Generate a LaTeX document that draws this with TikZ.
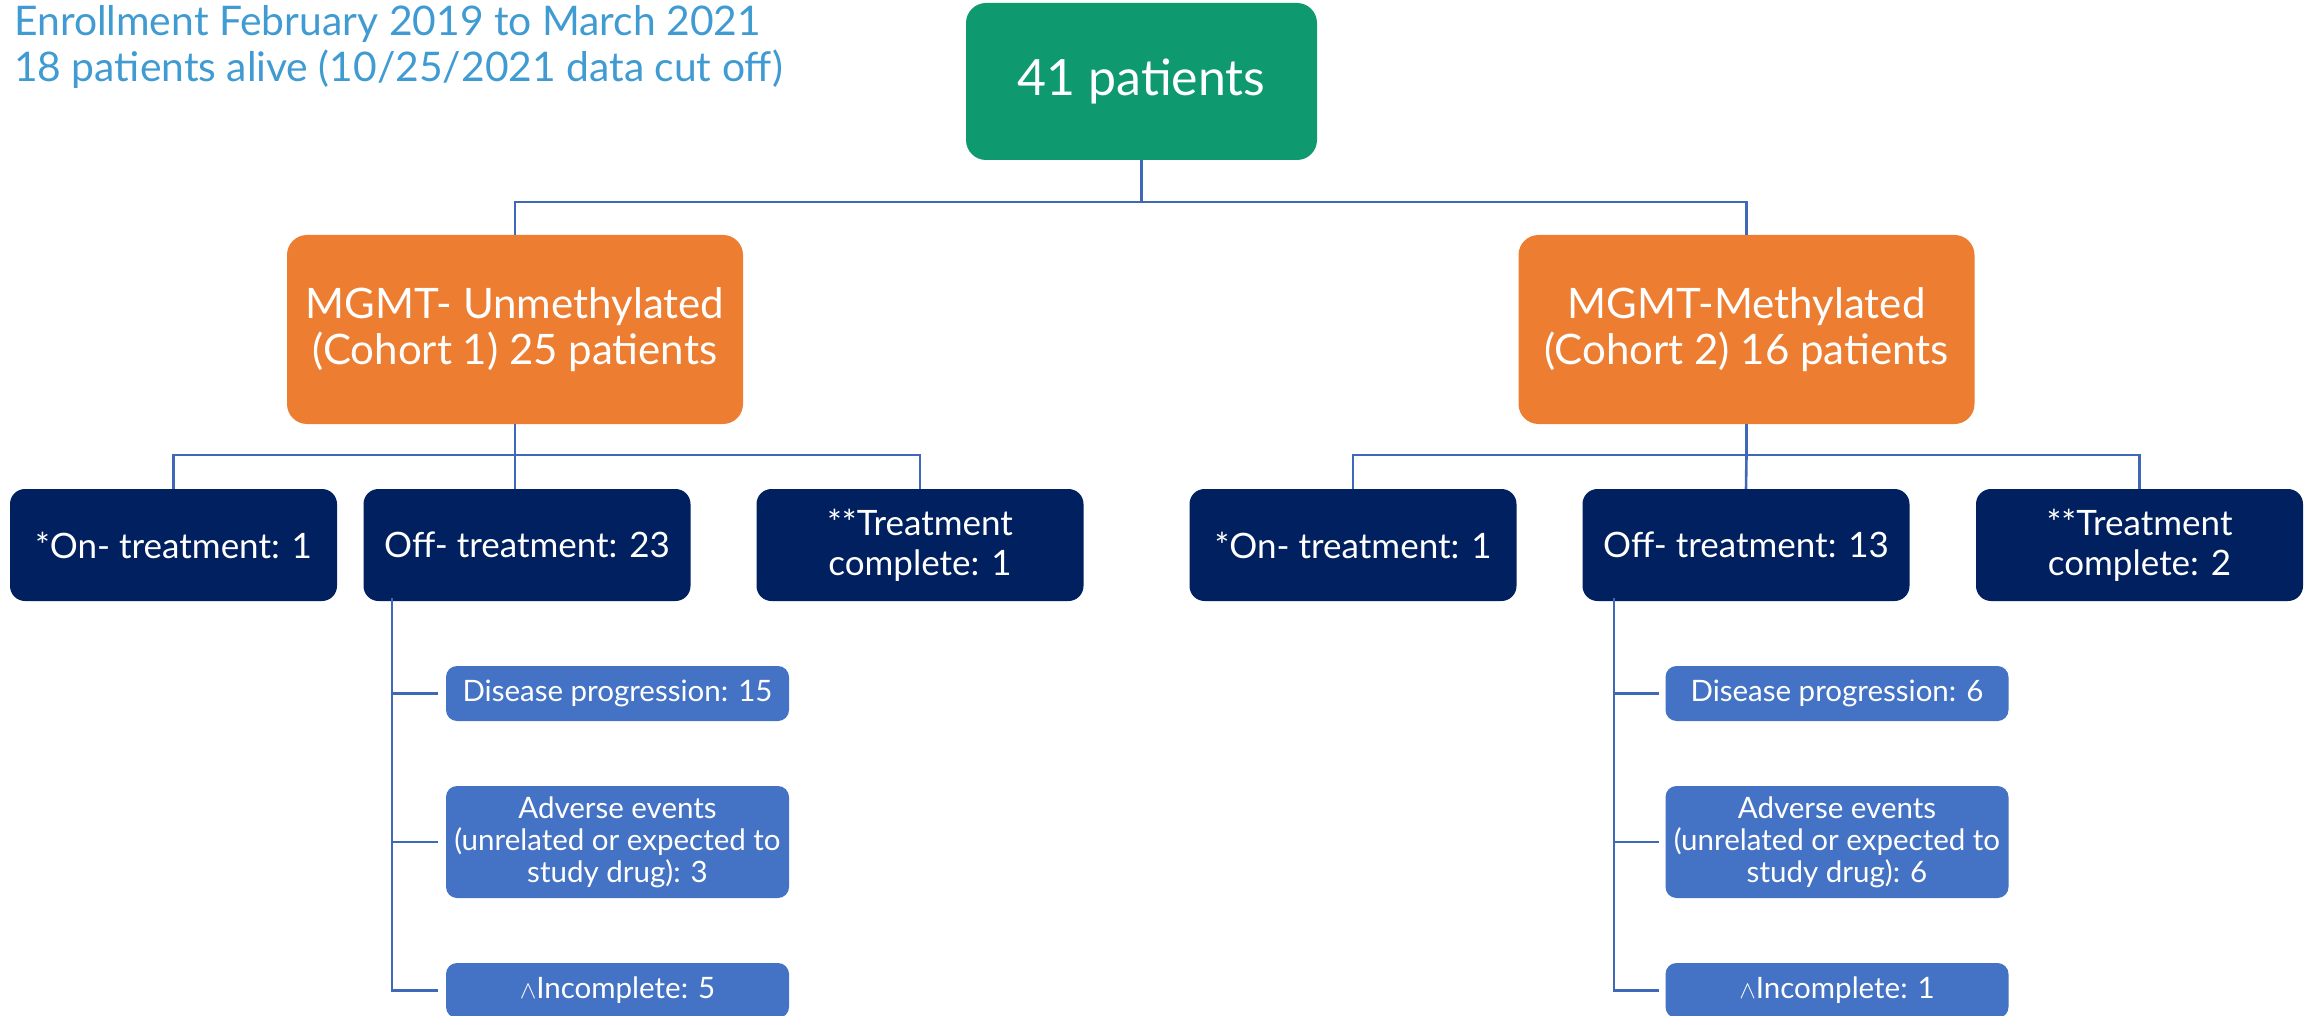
\documentclass[tikz,border=0pt]{standalone}
\usepackage{fontspec}
\setmainfont{Lato}
\definecolor{titleblue}{HTML}{409BD2}
\definecolor{topgreen}{HTML}{0E9A6E}
\definecolor{cohortorange}{HTML}{ED7D31}
\definecolor{navy}{HTML}{002060}
\definecolor{lightbox}{HTML}{4472C4}
\definecolor{linecol}{HTML}{3F69B8}
\begin{document}
\begin{tikzpicture}[x=1pt,y=-1pt,
  basebox/.style={rectangle, text=white, align=center, inner sep=0pt},
  topbox/.style={basebox, fill=topgreen, rounded corners=20pt, minimum width=351pt, minimum height=157pt, font=\fontsize{50}{60}\selectfont},
  cohort/.style={basebox, fill=cohortorange, rounded corners=20pt, minimum width=456pt, minimum height=189pt, font=\fontsize{42}{46}\selectfont},
  statbox/.style={basebox, fill=navy, rounded corners=15pt, minimum width=327pt, minimum height=112pt, font=\fontsize{35}{40}\selectfont},
  reasonbox/.style={basebox, fill=lightbox, rounded corners=11pt, minimum width=343pt, font=\fontsize{29.5}{32}\selectfont},
  conn/.style={draw=linecol, line width=2.6pt}
]
\useasboundingbox (0,0) rectangle (2316,1016);

\node[anchor=north west, text=titleblue, align=left, inner sep=0pt,
      font=\fontsize{40.8}{46}\selectfont] (title) at (14,5)
  {Enrollment February 2019 to March 2021\\18 patients alive (10/25/2021 data cut off)};

\node[topbox] (top) at (1141.5,81.5) {41 patients};

\node[cohort] (c1) at (515,329.5) {MGMT- Unmethylated\\(Cohort 1) 25 patients};
\node[cohort] (c2) at (1746.5,329.5) {MGMT-Methylated\\(Cohort 2) 16 patients};

\node[statbox] (on1) at (173.5,545) {*On- treatment: 1};
\node[statbox] (off1) at (527,545) {Off- treatment: 23};
\node[statbox] (tc1) at (920,545) {**Treatment\\complete: 1};
\node[statbox] (on2) at (1353,545) {*On- treatment: 1};
\node[statbox] (off2) at (1746,545) {Off- treatment: 13};
\node[statbox] (tc2) at (2139.5,545) {**Treatment\\complete: 2};

\node[reasonbox, minimum height=55pt] (dp1) at (617.5,693.5) {Disease progression: 15};
\node[reasonbox, minimum height=112pt] (ae1) at (617.5,842) {Adverse events\\(unrelated or expected to\\study drug): 3};
\node[reasonbox, minimum height=55pt] (inc1) at (617.5,990.5) {$\wedge$Incomplete: 5};
\node[reasonbox, minimum height=55pt] (dp2) at (1837,693.5) {Disease progression: 6};
\node[reasonbox, minimum height=112pt] (ae2) at (1837,842) {Adverse events\\(unrelated or expected to\\study drug): 6};
\node[reasonbox, minimum height=55pt] (inc2) at (1837,990.5) {$\wedge$Incomplete: 1};

% buses
\coordinate (bus0) at (0,202);
\coordinate (bus1) at (0,455);
\coordinate (brL) at (392,0);
\coordinate (brR) at (1614,0);

\draw[conn] (top.south) -- (top.south |- bus0);
\draw[conn] (top.south |- bus0) -| (c1.north);
\draw[conn] (top.south |- bus0) -| (c2.north);

\draw[conn] (c1.south) -- (c1.south |- bus1);
\draw[conn] (c1.south |- bus1) -| (on1.north);
\draw[conn] (c1.south |- bus1) -| (tc1.north);
\draw[conn] (c1.south |- bus1) -- (c1.south |- off1.north);

\draw[conn] (c2.south) -- (c2.south |- bus1);
\draw[conn] (c2.south |- bus1) -| (on2.north);
\draw[conn] (c2.south |- bus1) -| (tc2.north);
\draw[conn] (c2.south |- bus1) -- (off2.north);

\draw[conn] ([yshift=3pt]brL |- off1.south) -- (brL |- inc1.west) -- ([xshift=-8pt]inc1.west);
\draw[conn] (brL |- dp1.west) -- ([xshift=-8pt]dp1.west);
\draw[conn] (brL |- ae1.west) -- ([xshift=-8pt]ae1.west);

\draw[conn] ([yshift=3pt]brR |- off2.south) -- (brR |- inc2.west) -- ([xshift=-6pt]inc2.west);
\draw[conn] (brR |- dp2.west) -- ([xshift=-6pt]dp2.west);
\draw[conn] (brR |- ae2.west) -- ([xshift=-6pt]ae2.west);
\end{tikzpicture}
\end{document}
